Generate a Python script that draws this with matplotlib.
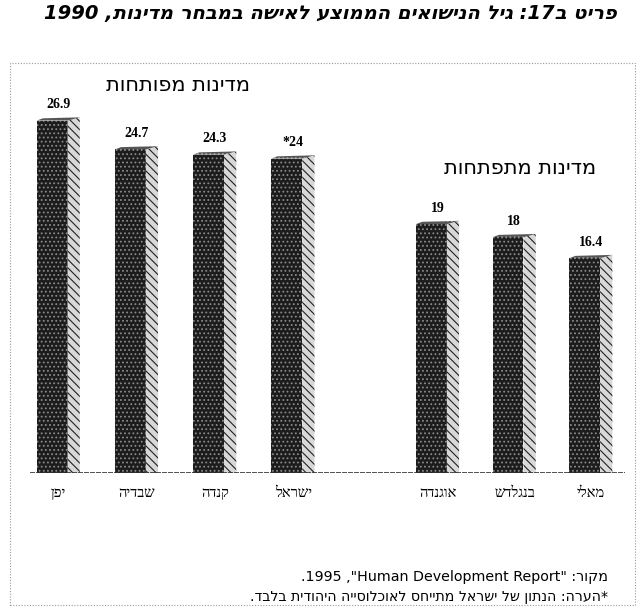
import re

import matplotlib

matplotlib.use("Agg")

import matplotlib.pyplot as plt
from matplotlib.patches import Polygon, Rectangle


TITLE = "פריט ב17: גיל הנישואים הממוצע לאישה במבחר מדינות, 1990"
DEVELOPED_TITLE = "מדינות מפותחות"
DEVELOPING_TITLE = "מדינות מתפתחות"
SOURCE_NOTE = 'מקור: "Human Development Report", 1995.'
ISRAEL_NOTE = "*הערה: הנתון של ישראל מתייחס לאוכלוסייה היהודית בלבד."

DEVELOPED_COUNTRIES = ["יפן", "שבדיה", "קנדה", "ישראל"]
DEVELOPED_AGES = [26.9, 24.7, 24.3, 24.0]
DEVELOPED_MARKS = ["", "", "", "*"]

DEVELOPING_COUNTRIES = ["אוגנדה", "בנגלדש", "מאלי"]
DEVELOPING_AGES = [19.0, 18.0, 16.4]
DEVELOPING_MARKS = ["", "", ""]

LTR_RUN = re.compile(r"[A-Za-z0-9](?:[A-Za-z0-9 .]*[A-Za-z0-9])?")

SERIF = ["Liberation Serif", "DejaVu Serif"]
SANS = ["DejaVu Sans"]


def rtl(text):
    # matplotlib has no bidi support: put right-to-left text in visual order
    parts = []
    pos = 0
    for match in LTR_RUN.finditer(text):
        if match.start() > pos:
            parts.append(text[pos:match.start()][::-1])
        parts.append(match.group())
        pos = match.end()
    if pos < len(text):
        parts.append(text[pos:][::-1])
    return "".join(reversed(parts))


def draw_3d_bar(ax, x, value, width=0.39, depth=0.155, rise=0.25):
    left = x - width / 2
    right = x + width / 2
    ax.bar(
        x,
        value,
        width=width,
        color="#1c1c1c",
        edgecolor="#8a8a8a",
        hatch="....",
        linewidth=0,
        zorder=3,
    )
    side = Polygon(
        [(right, 0), (right + depth, 0), (right + depth, value + rise), (right, value)],
        closed=True,
        facecolor="#d8d8d8",
        edgecolor="#222222",
        hatch="\\\\\\\\",
        linewidth=0,
        zorder=3,
    )
    top = Polygon(
        [(left, value), (right, value), (right + depth, value + rise), (left + depth * 0.5, value + rise * 0.7)],
        closed=True,
        facecolor="#555555",
        edgecolor="#bbbbbb",
        hatch="....",
        linewidth=0,
        zorder=3,
    )
    ax.add_patch(side)
    ax.add_patch(top)


def main():
    plt.rcParams["hatch.linewidth"] = 0.8
    fig = plt.figure(figsize=(6.43, 6.08), dpi=100)

    ax = fig.add_axes([30 / 643, (608 - 473) / 608, 595 / 643, 393 / 608])
    ax.set_xlim(-0.28, 7.25)
    ax.set_ylim(0, 30)
    ax.axis("off")

    groups = [
        (DEVELOPED_COUNTRIES, DEVELOPED_AGES, DEVELOPED_MARKS, 0.0),
        (DEVELOPING_COUNTRIES, DEVELOPING_AGES, DEVELOPING_MARKS, 4.8),
    ]
    for countries, ages, marks, start in groups:
        spacing = 0.99 if start == 0 else 0.97
        for index, (country, age, mark) in enumerate(zip(countries, ages, marks)):
            x = start + index * spacing
            draw_3d_bar(ax, x, age)
            ax.text(
                x + 0.08,
                age + 0.7,
                f"{mark}{age:g}",
                ha="center",
                va="bottom",
                fontsize=10,
                fontweight="bold",
                family=SERIF,
            )
            ax.text(
                x + 0.08,
                -1.05,
                rtl(country),
                ha="center",
                va="top",
                fontsize=10.5,
                family=SERIF,
            )

    ax.axhline(0, xmin=0.0, xmax=1.0, color="#333333", linewidth=1.2, linestyle=(0, (3, 0.6)), zorder=4)

    fig.text(178 / 643, 1 - 85 / 608, rtl(DEVELOPED_TITLE), ha="center", va="center", fontsize=15, family=SANS)
    fig.text(520 / 643, 1 - 168 / 608, rtl(DEVELOPING_TITLE), ha="center", va="center", fontsize=15, family=SANS)

    fig.text(
        330 / 643,
        1 - 14 / 608,
        rtl(TITLE),
        ha="center",
        va="center",
        fontsize=14,
        fontweight="bold",
        fontstyle="italic",
        family=SANS,
    )

    fig.text(608 / 643, 1 - 577 / 608, rtl(SOURCE_NOTE), ha="right", va="center", fontsize=10.3, family=SANS)
    fig.text(608 / 643, 1 - 597 / 608, rtl(ISRAEL_NOTE), ha="right", va="center", fontsize=10.2, family=SANS)

    frame = Rectangle(
        (10 / 643, 3 / 608),
        625 / 643,
        542 / 608,
        transform=fig.transFigure,
        fill=False,
        edgecolor="#9a9a9a",
        linewidth=0.8,
        linestyle=(0, (1, 1.5)),
    )
    fig.patches.append(frame)

    fig.savefig("out.png", dpi=100)
    plt.close(fig)


if __name__ == "__main__":
    main()
